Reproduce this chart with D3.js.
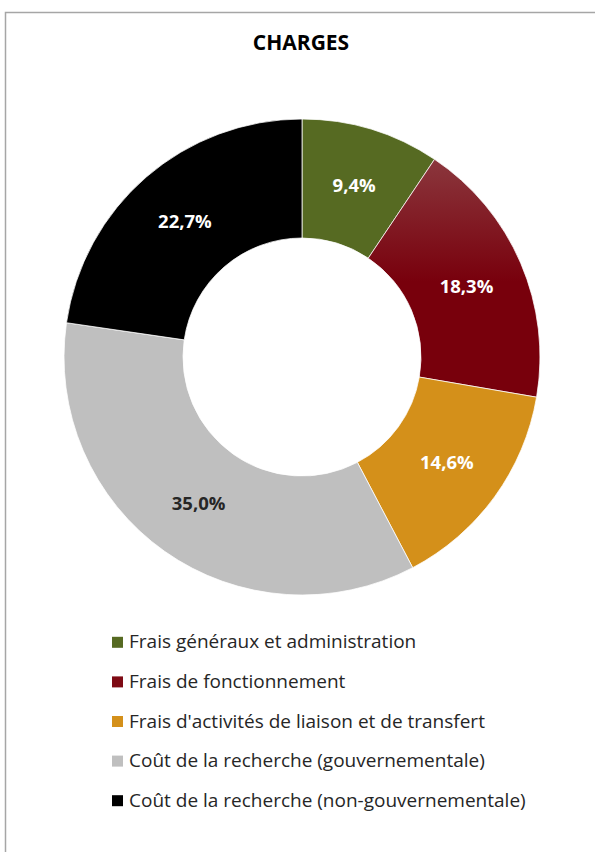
<!DOCTYPE html>
<html>
<head>
<meta charset="utf-8">
<script src="https://cdn.jsdelivr.net/npm/d3@7"></script>
<style>
  body { margin: 0; background: #fff; }
  svg text { font-family: "Open Sans", sans-serif; }
</style>
</head>
<body>
<div class="donut-container"></div>
<script>
// data
const categories = [
    'Frais généraux et administration',
    'Frais de fonctionnement',
    "Frais d'activités de liaison et de transfert",
    'Coût de la recherche (gouvernementale)',
    'Coût de la recherche (non-gouvernementale)'
];
const values = [9.4, 18.3, 14.6, 35.0, 22.7];
const colors = ['#566a22', 'url(#red_grad)', '#d4901a', '#bfbfbf', '#000000'];
const legend_colors = ['#566a22', '#7e0a14', '#d4901a', '#bfbfbf', '#000000'];
const label_colors = ['#ffffff', '#ffffff', '#ffffff', '#262626', '#ffffff'];

const fmt = v => d3.format('.1f')(v).replace('.', ',') + '%';

function setup_canvas(){
    const svg_width = 595;
    const svg_height = 852;
    const cx = 302, cy = 357;
    const outer_r = 238, inner_r = 119;

    const svg = d3.select('.donut-container')
        .append('svg')
        .attr('width', svg_width)
        .attr('height', svg_height);

    // frame (runs past the right and bottom edge)
    svg.append('rect')
        .attr('x', 5.5).attr('y', 12.5)
        .attr('width', 620).attr('height', 900)
        .style('fill', 'none')
        .style('stroke', '#a6a6a6')
        .style('stroke-width', 1.5);

    // gradient for the red slice, in the donut group's coordinates
    const defs = svg.append('defs');
    const grad = defs.append('linearGradient')
        .attr('id', 'red_grad')
        .attr('gradientUnits', 'userSpaceOnUse')
        .attr('x1', 0).attr('y1', -205)
        .attr('x2', 0).attr('y2', -75);
    grad.append('stop').attr('offset', '0%').attr('stop-color', '#8c3a40');
    grad.append('stop').attr('offset', '100%').attr('stop-color', '#78000c');

    // title
    svg.append('text')
        .attr('x', cx - 1).attr('y', 50)
        .attr('text-anchor', 'middle')
        .style('font-size', '21px')
        .style('font-weight', 'bold')
        .style('fill', '#000')
        .text('CHARGES');

    const pie_data = d3.pie().sort(null)(values);
    const arc = d3.arc().innerRadius(inner_r).outerRadius(outer_r);
    const label_arc = d3.arc().innerRadius(179).outerRadius(179);

    const g = svg.append('g').attr('transform', `translate(${cx}, ${cy})`);

    g.selectAll('.slice')
        .data(pie_data)
        .enter()
        .append('path')
        .attr('class', 'slice')
        .attr('d', arc)
        .style('fill', (d, i) => colors[i])
        .style('stroke', '#fff')
        .style('stroke-width', 0.75);

    g.selectAll('.label')
        .data(pie_data)
        .enter()
        .append('text')
        .attr('class', 'label')
        .attr('transform', d => `translate(${label_arc.centroid(d)})`)
        .attr('text-anchor', 'middle')
        .attr('dy', '0.35em')
        .style('font-size', '18.5px')
        .style('font-weight', 'bold')
        .style('fill', (d, i) => label_colors[i])
        .text(d => fmt(d.data));

    // legend
    const y_legend = d3.scaleBand()
        .domain(categories)
        .range([622, 820]);
    const legend = svg.append('g').attr('class', 'legend');
    const rows = legend.selectAll('.row')
        .data(categories)
        .enter()
        .append('g')
        .attr('class', 'row')
        .attr('transform', d => `translate(0, ${y_legend(d) + y_legend.bandwidth() / 2})`);
    rows.append('rect')
        .attr('x', 112).attr('y', -5)
        .attr('width', 11).attr('height', 11)
        .style('fill', (d, i) => legend_colors[i]);
    rows.append('text')
        .attr('x', 129)
        .attr('dy', '0.35em')
        .style('font-size', '19px')
        .style('fill', '#262626')
        .text(d => d);
}

setup_canvas();
</script>
</body>
</html>
